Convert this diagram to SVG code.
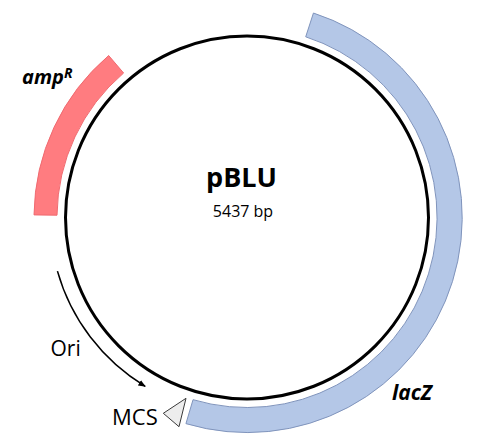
<svg xmlns="http://www.w3.org/2000/svg" width="483" height="442" viewBox="0 0 483 442">
<style>
  .lbl { font-family: "Open Sans", "Liberation Sans", sans-serif; fill: #000; }
  .gene { font-family: "Open Sans", "Liberation Sans", sans-serif; font-weight: bold; font-style: italic; fill: #000; }
  .bb { fill: none; stroke: #000; stroke-width: 3; }
  .lacz { fill: #B4C7E7; stroke: #8094BC; stroke-width: 1; }
  .amp { fill: #FF7C80; stroke: #F06A70; stroke-width: 1; }
  .mcs { fill: #EDEDED; stroke: #3A3A3A; stroke-width: 1; }
  .ori { fill: none; stroke: #000; stroke-width: 1.5; }
</style>
<defs>
  <marker id="arr" viewBox="0 0 10 10" refX="9" refY="5" markerWidth="5" markerHeight="5" orient="auto" markerUnits="strokeWidth">
    <path d="M0,1 L10,5 L0,9 Z" fill="#000"/>
  </marker>
</defs>
<rect width="483" height="442" fill="#fff"/>
<g id="backbone">
  <circle class="bb" cx="247" cy="217.5" r="181.5"/>
  <text class="lbl" x="241.5" y="187" font-size="27" font-weight="bold" text-anchor="middle">pBLU</text>
  <text class="lbl" x="243" y="217" font-size="16" text-anchor="middle">5437 bp</text>
</g>
<g id="lacZ">
  <path class="lacz" d="M313.44,13.02 A215,215 0 0 1 185.94,423.65 L193.04,399.68 A190,190 0 0 0 305.71,36.80 Z"/>
  <text class="gene" x="392" y="400" font-size="21">lacZ</text>
</g>
<g id="ampR">
  <path class="amp" d="M34.01,214.9 A213,213 0 0 1 108.67,55.53 L123.60,73.02 A190,190 0 0 0 57.0,215.2 Z"/>
  <text class="gene" x="22" y="83.5" font-size="20">amp<tspan font-size="14" dy="-6">R</tspan></text>
</g>
<g id="MCS">
  <polygon class="mcs" points="163.3,413.3 186,398.3 179,426.7"/>
  <text class="lbl" x="112" y="425" font-size="22">MCS</text>
</g>
<g id="connectors">
  <path id="ori-arrow" class="ori" d="M57.44,271.14 A197,197 0 0 0 145.2,386.3" marker-end="url(#arr)"/>
</g>
<g id="Ori">
  <text class="lbl" x="50.5" y="356" font-size="21">Ori</text>
</g>
</svg>
